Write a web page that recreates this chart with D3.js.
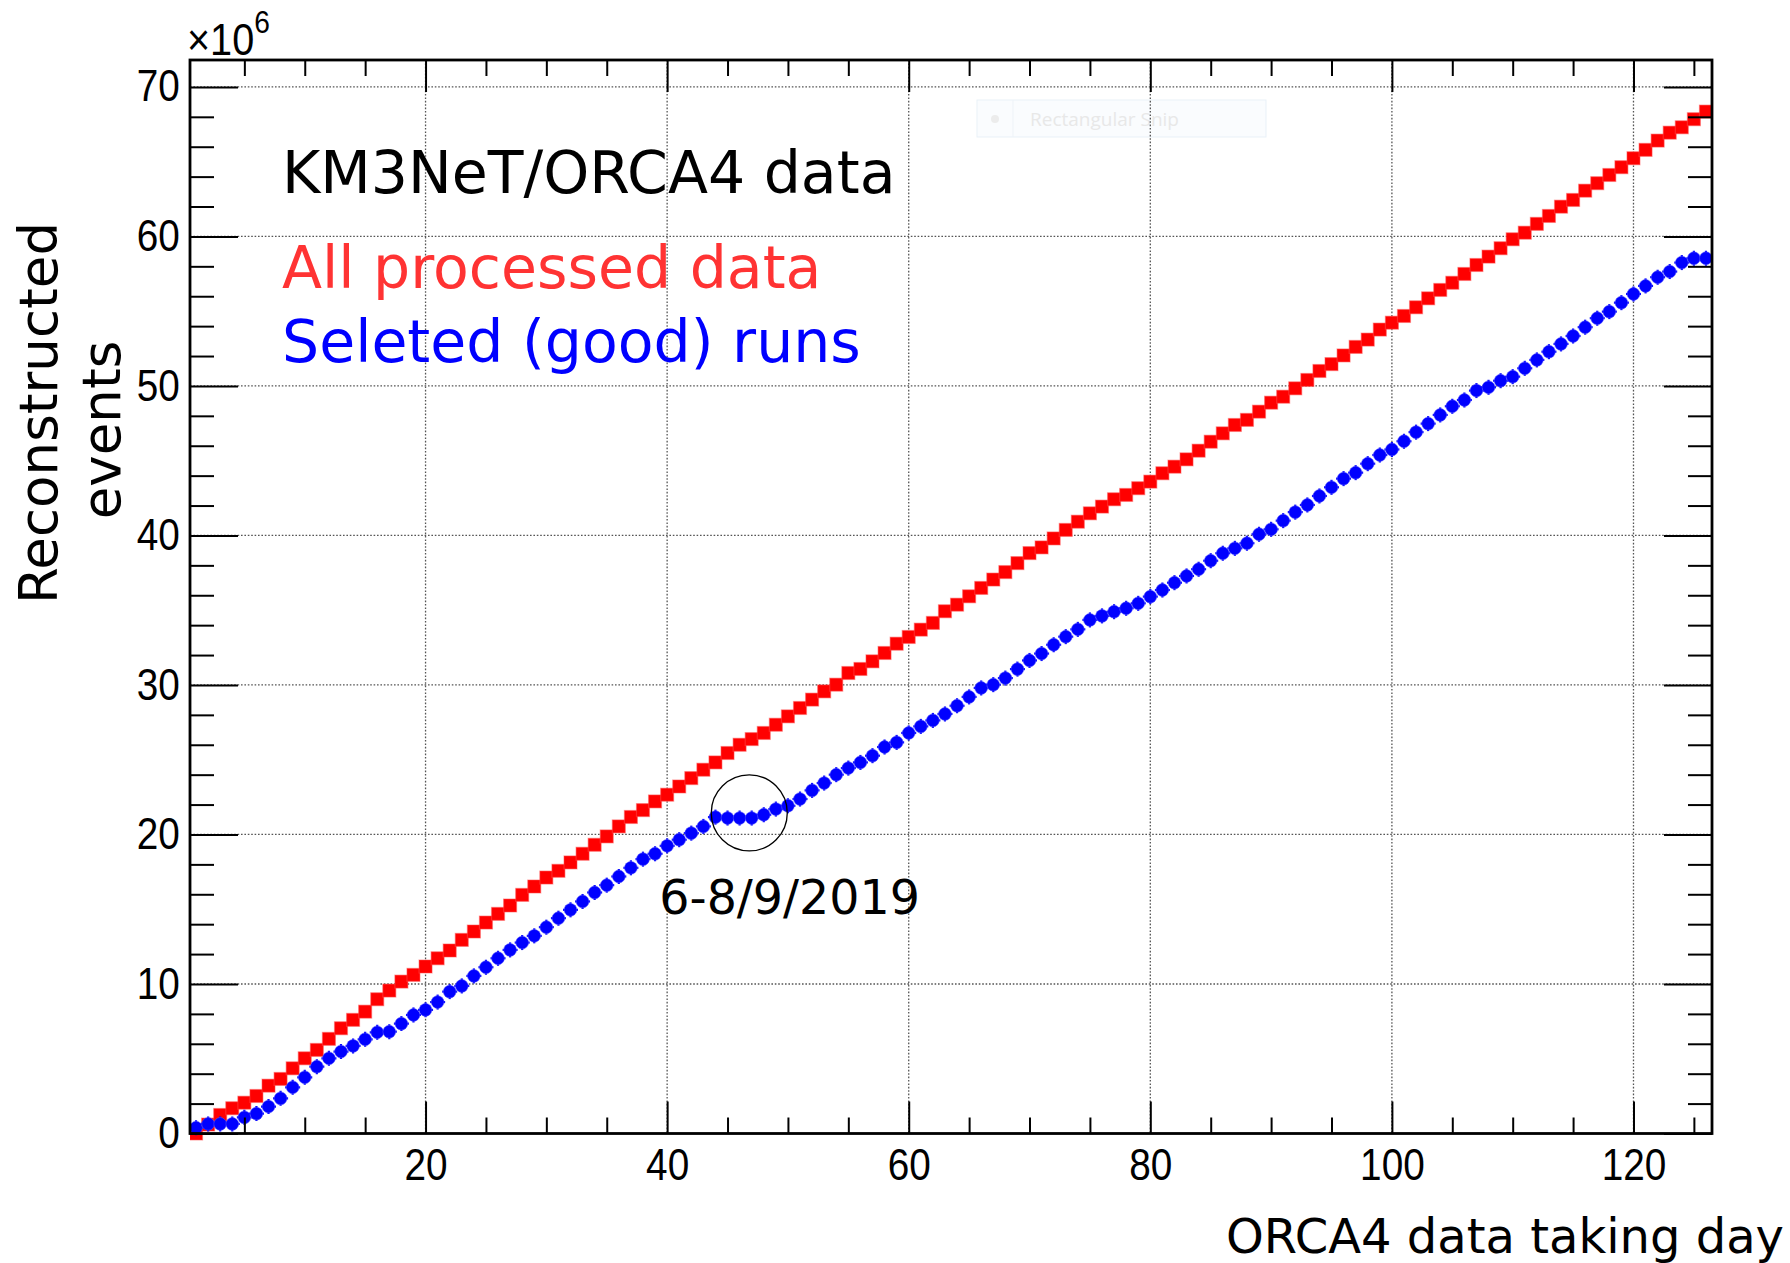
<!DOCTYPE html>
<html>
<head>
<meta charset="utf-8">
<script src="https://cdn.jsdelivr.net/npm/d3@7"></script>
<style>
  html, body { margin: 0; padding: 0; background: #fff; }
  svg { display: block; }
</style>
</head>
<body>
<svg id="chart" width="1790" height="1263"></svg>
<script>
// ---------------- data (values in units of 10^6 events) ----------------
const firstDay = 1;
const allProcessed = [
  0.0, 0.6, 1.24, 1.69, 2.06, 2.51, 3.2, 3.65, 4.36, 5.03,
  5.59, 6.33, 7.04, 7.6, 8.15, 8.98, 9.56, 10.16, 10.61, 11.17,
  11.72, 12.24, 12.95, 13.51, 14.11, 14.69, 15.25, 15.96, 16.52, 17.12,
  17.57, 18.13, 18.71, 19.31, 19.87, 20.54, 21.17, 21.63, 22.21, 22.66,
  23.21, 23.77, 24.33, 24.82, 25.45, 26.0, 26.38, 26.79, 27.34, 27.9,
  28.46, 29.02, 29.57, 30.02, 30.8, 31.07, 31.58, 32.14, 32.76, 33.21,
  33.7, 34.15, 34.93, 35.37, 35.93, 36.49, 37.05, 37.55, 38.15, 38.82,
  39.2, 39.8, 40.37, 40.92, 41.48, 41.93, 42.42, 42.71, 43.16, 43.6,
  44.16, 44.6, 45.09, 45.67, 46.27, 46.83, 47.39, 47.73, 48.28, 48.88,
  49.28, 49.84, 50.4, 51.0, 51.46, 52.04, 52.61, 53.1, 53.77, 54.23,
  54.68, 55.26, 55.86, 56.42, 56.9, 57.49, 58.09, 58.65, 59.21, 59.81,
  60.25, 60.84, 61.37, 61.99, 62.44, 63.06, 63.56, 64.11, 64.63, 65.23,
  65.79, 66.41, 66.94, 67.3, 67.84, 68.35
];
const selectedRuns = [
  0.39, 0.64, 0.64, 0.64, 1.08, 1.33, 1.8, 2.35, 3.09, 3.76,
  4.47, 5.03, 5.48, 5.86, 6.3, 6.77, 6.81, 7.35, 7.93, 8.27,
  8.79, 9.49, 9.87, 10.54, 11.12, 11.72, 12.28, 12.77, 13.22, 13.8,
  14.4, 14.96, 15.52, 16.12, 16.61, 17.19, 17.77, 18.35, 18.71, 19.24,
  19.65, 20.09, 20.54, 21.16, 21.1, 21.1, 21.1, 21.32, 21.7, 21.92,
  22.37, 22.95, 23.44, 24.0, 24.44, 24.82, 25.27, 25.85, 26.16, 26.79,
  27.23, 27.63, 28.06, 28.61, 29.2, 29.8, 30.02, 30.46, 31.06, 31.64,
  32.1, 32.69, 33.23, 33.72, 34.35, 34.62, 34.9, 35.13, 35.46, 35.91,
  36.35, 36.84, 37.29, 37.74, 38.31, 38.81, 39.14, 39.48, 40.08, 40.41,
  40.99, 41.56, 42.04, 42.64, 43.22, 43.8, 44.2, 44.8, 45.38, 45.75,
  46.3, 46.91, 47.48, 48.06, 48.64, 49.06, 49.69, 49.91, 50.35, 50.62,
  51.18, 51.74, 52.29, 52.81, 53.34, 53.93, 54.53, 54.97, 55.57, 56.15,
  56.69, 57.27, 57.65, 58.25, 58.54, 58.54
];
const xTickLabels = [20, 40, 60, 80, 100, 120];
const yTickLabels = [0, 10, 20, 30, 40, 50, 60, 70];
const xDomain = [0.5, 126.5];
const yDomain = [0, 71.8];
const titleText = "KM3NeT/ORCA4 data";
const series1Label = "All processed data";
const series2Label = "Seleted (good) runs";
const xTitle = "ORCA4 data taking day";
const yTitleLines = ["Reconstructed", "events"];
const annotation = { day: 46.8, value: 21.44, text: "6-8/9/2019" };

// ---------------- layout ----------------
const L = 190, R = 1712, T = 60, B = 1133.5;
const svg = d3.select("#chart");
const x = d3.scaleLinear().domain(xDomain).range([L, R]);
const y = d3.scaleLinear().domain(yDomain).range([B, T]);

const xMinor = d3.range(5, 127, 5).filter(v => v % 20 !== 0);
const yMinor = d3.range(2, 71, 2).filter(v => v % 10 !== 0);

const tickFont = "'Liberation Sans', Arial, Helvetica, sans-serif";
const textFont = "'DejaVu Sans', Verdana, sans-serif";

// ghost snipping-tool box (faint)
const ghost = svg.append("g");
ghost.append("rect").attr("x", 977).attr("y", 100).attr("width", 289).attr("height", 37)
  .attr("fill", "#fafcfe").attr("stroke", "#e9f1f8").attr("stroke-width", 1);
ghost.append("line").attr("x1", 1013).attr("x2", 1013).attr("y1", 100).attr("y2", 137)
  .attr("stroke", "#eef3f8");
ghost.append("circle").attr("cx", 995).attr("cy", 119).attr("r", 4).attr("fill", "#ececec");
ghost.append("text").attr("x", 1030).attr("y", 126).text("Rectangular Snip")
  .attr("font-family", "'Open Sans', 'Noto Sans', sans-serif").attr("font-size", 19)
  .attr("fill", "#e8e8e8");

// grid
const grid = svg.append("g").attr("stroke", "#555").attr("stroke-width", 1.3)
  .attr("stroke-dasharray", "1.6,1.8");
grid.selectAll("line.v").data(xTickLabels).join("line").attr("class", "v")
  .attr("x1", d => x(d)).attr("x2", d => x(d)).attr("y1", T).attr("y2", B);
grid.selectAll("line.h").data(yTickLabels.filter(v => v > 0)).join("line").attr("class", "h")
  .attr("x1", L).attr("x2", R).attr("y1", d => y(d)).attr("y2", d => y(d));

// markers
svg.append("clipPath").attr("id", "plotclip").append("rect")
  .attr("x", L).attr("y", T).attr("width", R - L).attr("height", B - T + 8);
const marks = svg.append("g").attr("clip-path", "url(#plotclip)");

const sq = 13;
marks.append("g").selectAll("rect").data(allProcessed).join("rect")
  .attr("x", (d, i) => x(firstDay + i) - sq / 2)
  .attr("y", d => y(d) - sq / 2)
  .attr("width", sq).attr("height", sq)
  .attr("fill", "#ff0000")
  .attr("stroke", "rgba(255,80,80,0.45)").attr("stroke-width", 1.2);

const blue = marks.append("g").selectAll("g").data(selectedRuns).join("g")
  .attr("transform", (d, i) => `translate(${x(firstDay + i)},${y(d)})`);
blue.append("line").attr("x1", -7.5).attr("x2", 7.5).attr("y1", 0).attr("y2", 0)
  .attr("stroke", "#0000ff").attr("stroke-width", 2.2);
blue.append("line").attr("x1", 0).attr("x2", 0).attr("y1", -7.5).attr("y2", 7.5)
  .attr("stroke", "#0000ff").attr("stroke-width", 2.2);
blue.append("circle").attr("r", 6.4).attr("fill", "#0000ff")
  .attr("stroke", "rgba(90,90,255,0.5)").attr("stroke-width", 1);

// axes
function styleAxis(g, labels) {
  g.select(".domain").remove();
  g.selectAll(".tick line").attr("stroke", "#000").attr("stroke-width", 2);
  g.attr("font-family", tickFont).attr("font-size", 44);
  if (!labels) g.selectAll("text").remove();
  else g.selectAll(".tick text").attr("fill", "#000").attr("transform", "scale(0.88,1)");
}
svg.append("g").attr("transform", `translate(0,${B})`)
  .call(d3.axisBottom(x).tickValues(xTickLabels).tickSize(-32).tickPadding(15.5).tickFormat(d => d))
  .call(g => styleAxis(g, true));
svg.append("g").attr("transform", `translate(0,${B})`)
  .call(d3.axisBottom(x).tickValues(xMinor).tickSize(-16).tickFormat(""))
  .call(g => styleAxis(g, false));
svg.append("g").attr("transform", `translate(0,${T})`)
  .call(d3.axisTop(x).tickValues(xTickLabels).tickSize(-32).tickFormat(""))
  .call(g => styleAxis(g, false));
svg.append("g").attr("transform", `translate(0,${T})`)
  .call(d3.axisTop(x).tickValues(xMinor).tickSize(-16).tickFormat(""))
  .call(g => styleAxis(g, false));
svg.append("g").attr("transform", `translate(${L},0)`)
  .call(d3.axisLeft(y).tickValues(yTickLabels).tickSize(-48).tickPadding(11.5).tickFormat(d => d))
  .call(g => styleAxis(g, true));
svg.append("g").attr("transform", `translate(${L},0)`)
  .call(d3.axisLeft(y).tickValues(yMinor).tickSize(-24).tickFormat(""))
  .call(g => styleAxis(g, false));
svg.append("g").attr("transform", `translate(${R},0)`)
  .call(d3.axisRight(y).tickValues(yTickLabels).tickSize(-48).tickFormat(""))
  .call(g => styleAxis(g, false));
svg.append("g").attr("transform", `translate(${R},0)`)
  .call(d3.axisRight(y).tickValues(yMinor).tickSize(-24).tickFormat(""))
  .call(g => styleAxis(g, false));

// frame
svg.append("rect").attr("x", L).attr("y", T).attr("width", R - L).attr("height", B - T)
  .attr("fill", "none").attr("stroke", "#000").attr("stroke-width", 2.8);

// exponent label
const expo = svg.append("text").attr("font-family", tickFont).attr("fill", "#000")
  .attr("transform", "translate(187,55) scale(0.88,1)");
expo.append("tspan").attr("font-size", 45).text("\u00d710");
expo.append("tspan").attr("font-size", 32).attr("dy", -22).text("6");

// axis titles
svg.append("text").attr("x", 1784).attr("y", 1253).attr("text-anchor", "end")
  .attr("font-family", textFont).attr("font-size", 48).attr("fill", "#000").text(xTitle);
svg.append("text").attr("transform", "translate(57,413) rotate(-90)").attr("text-anchor", "middle")
  .attr("font-family", textFont).attr("font-size", 53).attr("fill", "#000").text(yTitleLines[0]);
svg.append("text").attr("transform", "translate(120,430) rotate(-90)").attr("text-anchor", "middle")
  .attr("font-family", textFont).attr("font-size", 53).attr("fill", "#000").text(yTitleLines[1]);

// in-plot texts
svg.append("text").attr("x", 282).attr("y", 193).attr("font-family", textFont).attr("font-size", 58.5)
  .attr("fill", "#000").text(titleText);
svg.append("text").attr("x", 282).attr("y", 288).attr("font-family", textFont).attr("font-size", 58.5)
  .attr("fill", "#ff3333").text(series1Label);
svg.append("text").attr("x", 282).attr("y", 362).attr("font-family", textFont).attr("font-size", 58.5)
  .attr("fill", "#0000ff").text(series2Label);

// annotation
svg.append("circle").attr("cx", x(annotation.day)).attr("cy", y(annotation.value)).attr("r", 38)
  .attr("fill", "none").attr("stroke", "#000").attr("stroke-width", 1.3);
svg.append("text").attr("x", x(annotation.day) - 90).attr("y", y(annotation.value) + 101)
  .attr("font-family", textFont).attr("font-size", 47.5).attr("fill", "#000").text(annotation.text);
</script>
</body>
</html>
